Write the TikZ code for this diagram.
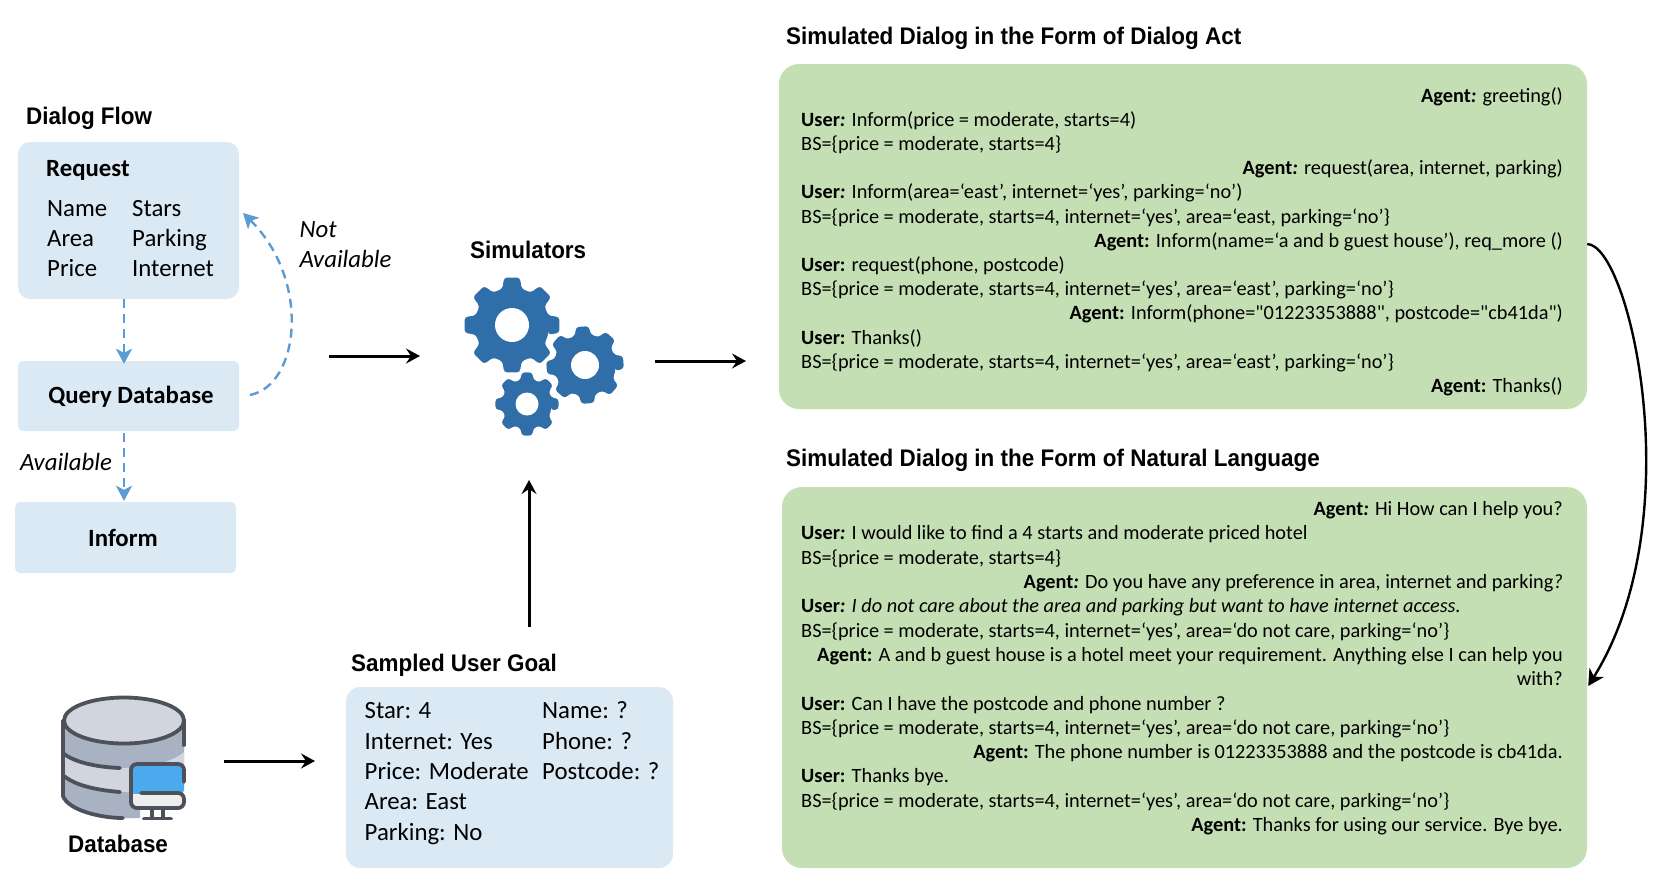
\documentclass[tikz,border=0pt]{standalone}
\usepackage{fontspec}
\usetikzlibrary{arrows.meta,calc}
\newfontfamily\bodyfont{Carlito}
\newfontfamily\headfont{Liberation Sans}[FakeStretch=0.935]
\definecolor{boxblue}{HTML}{DBE9F5}
\definecolor{boxgreen}{HTML}{C5DFB4}
\definecolor{dashblue}{HTML}{5B9BD5}
\definecolor{gearblue}{HTML}{2F6EA8}
\definecolor{dbdark}{HTML}{4D5159}
\definecolor{dbbody}{HTML}{A8B2C3}
\definecolor{dbband}{HTML}{D0D5DE}
\definecolor{dbscreen}{HTML}{4BA9EE}
\definecolor{dbwhite}{HTML}{EEEEEE}
\tikzset{
  bluebox/.style={fill=boxblue,rounded corners=#1,inner sep=0pt,draw=none},
  greenbox/.style={fill=boxgreen,rounded corners=20pt,inner sep=0pt,draw=none},
  heading/.style={anchor=base west,inner sep=0pt,font=\headfont\bfseries\fontsize{24}{28}\selectfont},
  leftlabel/.style={anchor=base west,inner sep=0pt,font=\bodyfont\fontsize{24.8}{28}\selectfont},
  leftbold/.style={leftlabel,font=\bodyfont\bfseries\fontsize{24.8}{28}\selectfont},
  leftital/.style={leftlabel,font=\bodyfont\itshape\fontsize{24.8}{28}\selectfont},
  midlabel/.style={anchor=base,inner sep=0pt,font=\bodyfont\bfseries\fontsize{24.8}{28}\selectfont},
  uline/.style={anchor=base west,inner sep=0pt,font=\bodyfont\fontsize{20.3}{24}\selectfont},
  aline/.style={anchor=base east,inner sep=0pt,font=\bodyfont\fontsize{20.3}{24}\selectfont},
  flowarrow/.style={draw=black,line width=3pt,-{Stealth[length=14pt,width=15pt,inset=5pt]}},
  dasharrow/.style={draw=dashblue,line width=2.4pt,dash pattern=on 9pt off 6pt,-{Stealth[length=15pt,width=16pt,inset=4pt,fill=dashblue]}},
  gearfill/.style={fill=gearblue,even odd rule,rounded corners=3pt},
  dbline/.style={draw=dbdark,line width=3.8pt,line cap=round,line join=round},
}
\newcommand{\mygear}[6]{% cx cy R r hole rotation
  \fill[gearfill] ($(#1,#2)+(#6-0.33*45:#4 pt)$)
    \foreach \k in {0,...,7}{
      -- ($(#1,#2)+(#6+\k*45-0.33*45:#4 pt)$)
      -- ($(#1,#2)+(#6+\k*45-0.21*45:#3 pt)$)
      -- ($(#1,#2)+(#6+\k*45+0.21*45:#3 pt)$)
      -- ($(#1,#2)+(#6+\k*45+0.33*45:#4 pt)$)
    } -- cycle;
  \fill[white] (#1,#2) circle[radius=#5 pt];
}
\begin{document}
\begin{tikzpicture}[x=1pt,y=-1pt]
\useasboundingbox (0,0) rectangle (1653,884);

% ---- Dialog flow
\node[heading] (dftitle) at (26,124) {Dialog Flow};
\node[bluebox=12pt,minimum width=221pt,minimum height=157pt] (request) at (128.5,220.5) {};
\node[bluebox=5pt,minimum width=221pt,minimum height=70pt] (query) at (128.5,396) {};
\node[bluebox=5pt,minimum width=221pt,minimum height=71pt] (inform) at (125.5,537.5) {};
\node[leftbold] (reqt) at (46,176) {Request};
\node[leftlabel] (r1) at (47,216) {Name};
\node[leftlabel] (r2) at (47,246) {Area};
\node[leftlabel] (r3) at (47,276) {Price};
\node[leftlabel] (r4) at (132,216) {Stars};
\node[leftlabel] (r5) at (132,246) {Parking};
\node[leftlabel] (r6) at (132,276) {Internet};
\node[midlabel] (qt) at (131,403) {Query Database};
\node[midlabel] (it) at (123,546) {Inform};
\node[leftital] (avail) at (20,470) {Available};
\node[leftital] (nota) at (299.5,237) {Not};
\node[leftital] (notb) at (299.5,267) {Available};
\coordinate (dx) at (124,0);
\coordinate (cstart) at (250,395);
\coordinate (cend) at (243,213);
\draw[dasharrow,shorten >=-3pt] (request.south -| dx) -- (query.north -| dx);
\draw[dasharrow,shorten >=-1pt] ($(query.south -| dx)+(0,2)$) -- ($(inform.north -| dx)+(0,-2)$);
\draw[dasharrow] (cstart) .. controls (300,385) and (311,280) .. (cend);

% ---- Simulators
\node[heading] (simt) at (470,258) {Simulators};
\mygear{512}{325}{48}{37.5}{17}{0}
\mygear{585}{365}{39}{31}{14}{4}
\mygear{527}{404}{32}{25}{11.5}{0}
\coordinate (simin) at (420,356);
\coordinate (flowout) at (329,356);
\coordinate (simout) at (655,361);
\coordinate (actin) at (746,361);
\coordinate (goalout) at (529,627);
\coordinate (simbelow) at (529,480);
\draw[flowarrow] (flowout) -- (simin);
\draw[flowarrow] (simout) -- (actin);
\draw[flowarrow] (goalout) -- (simbelow);

% ---- Database icon
\fill[dbbody] (63,720) -- (63,798) .. controls (70,812) and (100,818) .. (125,818) -- (140,818) -- (140,770) -- (184,770) -- (184,720) -- cycle;
\fill[dbband] (63,753) .. controls (75,762) and (95,767) .. (120,768) .. controls (150,768) and (172,762) .. (184,752) -- (184,764) -- (132,764) -- (132,792) -- (120,792) .. controls (95,790) and (75,785) .. (63,775) -- cycle;
\fill[dbband] (124,720.5) ellipse[x radius=60,y radius=23];
\draw[dbline] (124,720.5) ellipse[x radius=60,y radius=23];
\draw[dbline] (63,720.5) -- (63,796) .. controls (68,810) and (100,818) .. (123,818);
\draw[dbline] (184,720.5) -- (184,745);
\draw[dbline] (64,754) .. controls (75,762) and (95,767) .. (120,768);
\draw[dbline] (64,776) .. controls (75,785) and (95,790) .. (120,792);
\fill[dbscreen,rounded corners=4pt] (131,765) rectangle (184,794);
\fill[dbwhite] (131,794) rectangle (184,807);
\draw[dbline,rounded corners=6pt] (184,782) -- (184,764) -- (131,764) -- (131,808) -- (184,808) -- (184,793) -- (141,793);
\draw[dbline] (152,809) -- (152,817);
\draw[dbline] (163,809) -- (163,817);
\draw[dbline] (144,818.5) -- (171,818.5);
\node[heading] (dbt) at (68,852.5) {Database};
\coordinate (dbout) at (224,761);
\coordinate (goalin) at (315,761);
\draw[flowarrow] (dbout) -- (goalin);

% ---- Sampled goal
\node[heading] (goalt) at (351,671.5) {Sampled User Goal};
\node[bluebox=14pt,minimum width=327pt,minimum height=181pt] (goal) at (509.5,777.5) {};
\node[leftlabel] (g1) at (364.5,718) {Star: 4};
\node[leftlabel] (g2) at (364.5,749) {Internet: Yes};
\node[leftlabel] (g3) at (364.5,779) {Price: Moderate};
\node[leftlabel] (g4) at (364.5,809) {Area: East};
\node[leftlabel] (g5) at (364.5,840) {Parking: No};
\node[leftlabel] (g6) at (542,718) {Name: ?};
\node[leftlabel] (g7) at (542,749) {Phone: ?};
\node[leftlabel] (g8) at (542,779) {Postcode: ?};

% ---- Dialog act
\node[heading] (actt) at (786,44) {Simulated Dialog in the Form of Dialog Act};
\node[greenbox,minimum width=808pt,minimum height=345pt] (act) at (1183,236.5) {};
\node[aline] (a1) at (1563,102) {\textbf{Agent\textit{:}} greeting()};
\node[uline] (a2) at (801,126.2) {\textbf{User\textit{:}} Inform(price = moderate, starts=4)};
\node[uline] (a3) at (801,150.4) {BS=\{price = moderate, starts=4\}};
\node[aline] (a4) at (1563,174.6) {\textbf{Agent\textit{:}} request(area, internet, parking)};
\node[uline] (a5) at (801,198.8) {\textbf{User\textit{:}} Inform(area=‘east’, internet=‘yes’, parking=‘no’)};
\node[uline] (a6) at (801,223) {BS=\{price = moderate, starts=4, internet=‘yes’, area=‘east, parking=‘no’\}};
\node[aline] (a7) at (1563,247.2) {\textbf{Agent:} Inform(name=‘a and b guest house’), req\_more ()};
\node[uline] (a8) at (801,271.4) {\textbf{User:} request(phone, postcode)};
\node[uline] (a9) at (801,295.6) {BS=\{price = moderate, starts=4, internet=‘yes’, area=‘east’, parking=‘no’\}};
\node[aline] (a10) at (1563,319.8) {\textbf{Agent:} Inform(phone="01223353888", postcode="cb41da")};
\node[uline] (a11) at (801,344) {\textbf{User:} Thanks()};
\node[uline] (a12) at (801,368.2) {BS=\{price = moderate, starts=4, internet=‘yes’, area=‘east’, parking=‘no’\}};
\node[aline] (a13) at (1563,392.4) {\textbf{Agent:} Thanks()};

% ---- Natural language
\node[heading] (nlt) at (786,466) {Simulated Dialog in the Form of Natural Language};
\node[greenbox,minimum width=805pt,minimum height=381pt] (nl) at (1184.5,677.5) {};
\node[aline] (n1) at (1563,515.6) {\textbf{Agent\textit{:}} Hi How can I help you?};
\node[uline] (n2) at (801,539.9) {\textbf{User\textit{:}} I would like to find a 4 starts and moderate priced hotel};
\node[uline] (n3) at (801,564.2) {BS=\{price = moderate, starts=4\}};
\node[aline] (n4) at (1563,588.5) {\textbf{Agent\textit{:}} Do you have any preference in area, internet and parking\textit{?}};
\node[uline] (n5) at (801,612.8) {\textbf{User\textit{:}} \textit{I do not care about the area and parking but want to have internet access.}};
\node[uline] (n6) at (801,637.1) {BS=\{price = moderate, starts=4, internet=‘yes’, area=‘do not care, parking=‘no’\}};
\node[aline] (n7) at (1563,661.4) {\textbf{Agent:} A and b guest house is a hotel meet your requirement. Anything else I can help you};
\node[aline] (n8) at (1563,685.7) {with?};
\node[uline] (n9) at (801,710) {\textbf{User:} Can I have the postcode and phone number ?};
\node[uline] (n10) at (801,734.3) {BS=\{price = moderate, starts=4, internet=‘yes’, area=‘do not care, parking=‘no’\}};
\node[aline] (n11) at (1563,758.6) {\textbf{Agent:} The phone number is 01223353888 and the postcode is cb41da.};
\node[uline] (n12) at (801,782.9) {\textbf{User:} Thanks bye.};
\node[uline] (n13) at (801,807.2) {BS=\{price = moderate, starts=4, internet=‘yes’, area=‘do not care, parking=‘no’\}};
\node[aline] (n14) at (1563,831.5) {\textbf{Agent:} Thanks for using our service. Bye bye.};

% ---- Curved connector
\coordinate (cva) at (act.east |- 0,244);
\coordinate (cvb) at (nl.east |- 0,686);
\draw[draw=black,line width=2.4pt,-{Stealth[length=16pt,width=17pt,inset=5pt]}] (cva) .. controls (1630,245) and (1692,520) .. ($(cvb)+(1,0)$);
\end{tikzpicture}
\end{document}
